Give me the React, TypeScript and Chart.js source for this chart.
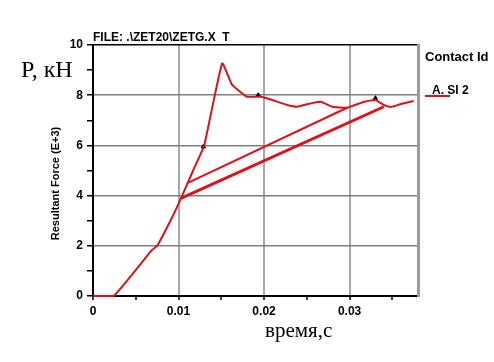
import React, { useEffect, useRef } from 'react';
import { Chart, registerables } from 'chart.js';

Chart.register(...registerables);

// ---- data ----
const mainT = [0, 0.0024, 0.0068, 0.0075, 0.0092, 0.0103, 0.0117, 0.013, 0.0151, 0.0162, 0.0168, 0.018, 0.0196, 0.0207, 0.0227, 0.0239, 0.025, 0.0266, 0.028, 0.0297, 0.0317, 0.033, 0.034, 0.0348, 0.036, 0.0375];
const mainP = [0, 0, 1.8, 2.0, 3.1, 3.9, 5.0, 6.0, 9.27, 8.45, 8.25, 7.94, 7.94, 7.84, 7.61, 7.54, 7.64, 7.74, 7.54, 7.5, 7.74, 7.81, 7.61, 7.53, 7.65, 7.77];
const upperT = [0.01097, 0.02971];
const upperP = [4.49, 7.5];
const lowerT = [0.01027, 0.034];
const lowerP = [3.89, 7.54];
const markerT = [0.01291, 0.01932, 0.03302];
const markerP = [5.95, 8.0, 7.88];
const xTickLabels = ['0', '0.01', '0.02', '0.03'];
const yTickLabels = ['0', '2', '4', '6', '8', '10'];

const seriesLabel = 'A. SI 2';
const legendTitle = 'Contact Id';
const chartTitle = 'FILE: .\\ZET20\\ZETG.X  T';
const yTitle = 'Resultant Force (E+3)';
const yUnit = 'P, кН';
const xUnit = 'время,с';

const RED = '#dc1119';

const pts = (t: number[], p: number[]) => t.map((v, i) => ({ x: v, y: p[i] }));

const annotPlugin = {
  id: 'annot',
  afterDraw(chart: any) {
    const ctx = chart.ctx as CanvasRenderingContext2D;
    ctx.save();
    ctx.fillStyle = '#000';
    ctx.textAlign = 'left';
    ctx.textBaseline = 'alphabetic';
    ctx.font = '24px "Liberation Serif"';
    ctx.fillText(yUnit, 21, 77);
    ctx.font = '21px "Liberation Serif"';
    ctx.fillText(xUnit, 265, 337);

    // y axis title
    ctx.save();
    ctx.translate(56, 183.5);
    ctx.rotate(-Math.PI / 2);
    ctx.textAlign = 'center';
    ctx.textBaseline = 'middle';
    ctx.font = 'bold 11px "Liberation Sans"';
    ctx.fillText(yTitle, 0, 0);
    ctx.restore();

    // legend
    ctx.textBaseline = 'middle';
    ctx.font = 'bold 13px "Liberation Sans"';
    ctx.fillText(legendTitle, 425, 57);
    ctx.font = 'bold 12px "Liberation Sans"';
    ctx.fillText(seriesLabel, 432, 91);
    ctx.strokeStyle = RED;
    ctx.lineWidth = 2;
    ctx.beginPath();
    ctx.moveTo(425, 96);
    ctx.lineTo(450, 96);
    ctx.stroke();
    ctx.restore();
  },
};

export default function App() {
  const ref = useRef<HTMLCanvasElement>(null);
  useEffect(() => {
    if (!ref.current) return;
    const chart = new Chart(ref.current, {
      type: 'scatter',
      data: {
        datasets: [
          { label: seriesLabel, data: pts(mainT, mainP), showLine: true, clip: 6, borderColor: RED, backgroundColor: RED, borderWidth: 2, pointRadius: 0, tension: 0.12, xAxisID: 'x', yAxisID: 'y' },
          { label: 'upper', data: pts(upperT, upperP), showLine: true, borderColor: RED, borderWidth: 2, pointRadius: 0, xAxisID: 'x', yAxisID: 'y' },
          { label: 'lower', data: pts(lowerT, lowerP), showLine: true, borderColor: RED, borderWidth: 3, pointRadius: 0, xAxisID: 'x', yAxisID: 'y' },
          { label: 'markers', data: pts(markerT, markerP), showLine: false, pointStyle: 'triangle', pointRadius: 2.5, backgroundColor: '#000', borderColor: '#000', borderWidth: 1, xAxisID: 'x', yAxisID: 'y' },
        ],
      },
      options: {
        responsive: false,
        animation: false,
        layout: { padding: { left: 0, top: 0, right: 76, bottom: 0 } },
        plugins: { legend: { display: false }, tooltip: { enabled: false }, title: { display: false } },
        scales: {
          x: {
            type: 'linear', position: 'bottom', min: 0, max: 0.038,
            afterFit: (s: any) => { s.height = 66; },
            ticks: {
              stepSize: 0.005, includeBounds: false, autoSkip: false, maxRotation: 0, padding: 4,
              color: '#000', font: { family: 'Liberation Sans', size: 12, weight: 'bold' },
              callback: (v: any) => { const i = Math.round(Number(v) * 1000); return i % 10 === 0 ? (xTickLabels[i / 10] ?? '') : ''; },
            },
            grid: {
              color: (c: any) => { const i = Math.round(c.tick.value * 1000); return i % 10 === 0 && i > 0 ? '#a8a8a8' : 'rgba(0,0,0,0)'; },
              lineWidth: 2, drawTicks: true, tickLength: 4, tickColor: '#000', tickWidth: 1.5,
            },
            border: { color: '#000', width: 2 },
          },
          xTop: {
            type: 'linear', position: 'top', min: 0, max: 0.038,
            afterFit: (s: any) => { s.height = 45; },
            ticks: { display: false },
            grid: { display: false },
            border: { color: '#000', width: 1.5 },
            title: { display: true, text: chartTitle, align: 'start', color: '#000', font: { family: 'Liberation Sans', size: 12, weight: 'bold' }, padding: { top: 30, bottom: 0 } },
          },
          y: {
            type: 'linear', position: 'left', min: 0, max: 10,
            afterFit: (s: any) => { s.width = 93; },
            ticks: {
              stepSize: 1, padding: 4, color: '#000', font: { family: 'Liberation Sans', size: 12, weight: 'bold' },
              callback: (v: any) => { const n = Math.round(Number(v)); return n % 2 === 0 ? (yTickLabels[n / 2] ?? '') : ''; },
            },
            grid: {
              color: (c: any) => { const n = Math.round(c.tick.value); return n % 2 === 0 && n > 0 && n < 10 ? '#808080' : 'rgba(0,0,0,0)'; },
              lineWidth: 1.5, drawTicks: true, tickLength: 6, tickColor: '#000', tickWidth: 1.5,
            },
            border: { color: '#000', width: 2 },
          },
          y2: {
            type: 'linear', position: 'right', min: 0, max: 10,
            afterFit: (s: any) => { s.width = 0; },
            ticks: { display: false },
            grid: { display: false },
            border: { color: '#9a9a9a', width: 3 },
          },
        },
      } as any,
      plugins: [annotPlugin],
    });
    return () => chart.destroy();
  }, []);
  return (
    <div style={{ position: 'fixed', left: 0, top: 0, width: 494, height: 362, background: '#fff' }}>
      <canvas ref={ref} width={494} height={362} style={{ display: 'block' }} />
    </div>
  );
}
